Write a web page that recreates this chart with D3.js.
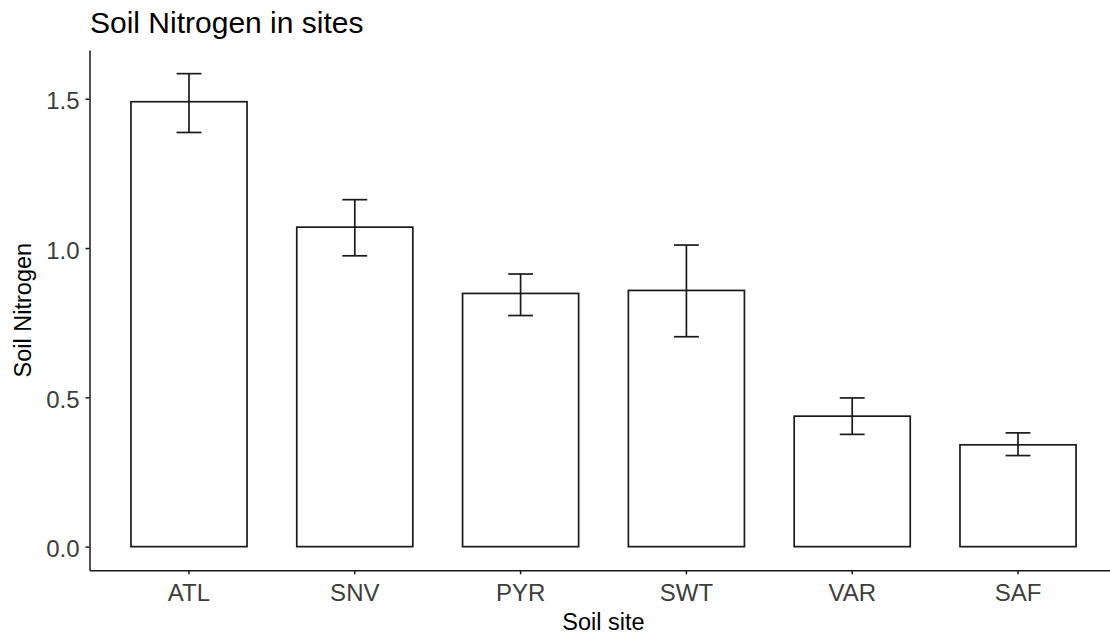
<!DOCTYPE html>
<html>
<head>
<meta charset="utf-8">
<script src="https://cdn.jsdelivr.net/npm/d3@7"></script>
<style>
  body { margin: 0; background: #fff; }
  svg { display: block; font-family: "Liberation Sans", Arial, sans-serif; }
</style>
</head>
<body>
<svg id="chart" width="1110" height="636"></svg>
<script>
// data
const sites = ["ATL", "SNV", "PYR", "SWT", "VAR", "SAF"];
const nitrogen = [1.490, 1.070, 0.848, 0.858, 0.437, 0.341];
const errLow = [1.387, 0.974, 0.774, 0.703, 0.376, 0.305];
const errHigh = [1.584, 1.162, 0.913, 1.010, 0.498, 0.381];
const yTicks = [0.0, 0.5, 1.0, 1.5];

const svg = d3.select("#chart");
// panel runs a little past the right edge, like the picture
const panel = { left: 89.5, right: 1117.5, top: 50, bottom: 570.3 };

const rows = sites.map((s, i) => ({ site: s, value: nitrogen[i], lo: errLow[i], hi: errHigh[i] }));

// x: discrete, bars 0.7 wide, 0.6 expansion each side
const x = d3.scaleBand()
  .domain(sites)
  .range([panel.left, panel.right])
  .paddingInner(0.3)
  .paddingOuter(0.25);

// y: 5% expansion on the data range
const yMax = d3.max(errHigh);
const pad = yMax * 0.05;
const y = d3.scaleLinear()
  .domain([-pad, yMax + pad])
  .range([panel.bottom, panel.top]);

const ink = "#1a1a1a";

// bars
svg.append("g")
  .selectAll("rect")
  .data(rows)
  .join("rect")
    .attr("x", d => x(d.site))
    .attr("y", d => y(d.value))
    .attr("width", x.bandwidth())
    .attr("height", d => y(0) - y(d.value))
    .attr("fill", "#fff")
    .attr("stroke", ink)
    .attr("stroke-width", 1.7);

// error bars
const capW = x.step() * 0.15;
const eb = svg.append("g")
  .selectAll("g")
  .data(rows)
  .join("g")
    .attr("stroke", ink)
    .attr("stroke-width", 1.7);
eb.append("line")
  .attr("x1", d => x(d.site) + x.bandwidth() / 2)
  .attr("x2", d => x(d.site) + x.bandwidth() / 2)
  .attr("y1", d => y(d.lo))
  .attr("y2", d => y(d.hi));
eb.append("line")
  .attr("x1", d => x(d.site) + x.bandwidth() / 2 - capW / 2)
  .attr("x2", d => x(d.site) + x.bandwidth() / 2 + capW / 2)
  .attr("y1", d => y(d.hi))
  .attr("y2", d => y(d.hi));
eb.append("line")
  .attr("x1", d => x(d.site) + x.bandwidth() / 2 - capW / 2)
  .attr("x2", d => x(d.site) + x.bandwidth() / 2 + capW / 2)
  .attr("y1", d => y(d.lo))
  .attr("y2", d => y(d.lo));

// axes
const xAxis = svg.append("g")
  .attr("transform", "translate(0," + panel.bottom + ")")
  .call(d3.axisBottom(x).tickSizeInner(4).tickSizeOuter(0).tickPadding(6));
const yAxis = svg.append("g")
  .attr("transform", "translate(" + panel.left + ",0)")
  .call(d3.axisLeft(y).tickValues(yTicks).tickFormat(d3.format(".1f"))
    .tickSizeInner(4).tickSizeOuter(0).tickPadding(6));

[xAxis, yAxis].forEach(a => {
  a.select(".domain").attr("stroke", ink).attr("stroke-width", 1.5);
  a.selectAll(".tick line").attr("stroke", ink).attr("stroke-width", 1.5);
  a.selectAll(".tick text")
    .attr("fill", "#3d3d3d")
    .style("font-size", "24px")
    .style("font-family", "\"Liberation Sans\", Arial, sans-serif");
});
xAxis.selectAll(".tick text").attr("dy", "0.88em");
yAxis.selectAll(".tick text").attr("dy", "0.42em");

// titles
svg.append("text")
  .attr("x", 90)
  .attr("y", 33)
  .style("font-size", "30px")
  .attr("fill", "#000")
  .text("Soil Nitrogen in sites");

svg.append("text")
  .attr("x", (panel.left + panel.right) / 2)
  .attr("y", 630)
  .attr("text-anchor", "middle")
  .style("font-size", "23.5px")
  .attr("fill", "#000")
  .text("Soil site");

svg.append("text")
  .attr("transform", "translate(31," + ((panel.top + panel.bottom) / 2) + ") rotate(-90)")
  .attr("text-anchor", "middle")
  .style("font-size", "23.5px")
  .attr("fill", "#000")
  .text("Soil Nitrogen");
</script>
</body>
</html>
